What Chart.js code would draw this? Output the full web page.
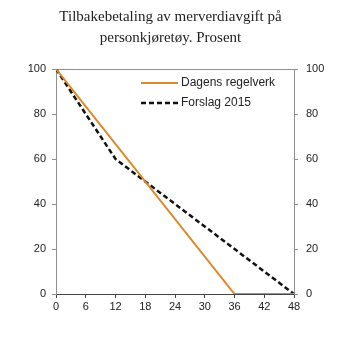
<!DOCTYPE html>
<html>
<head>
<meta charset="utf-8">
<script src="https://cdn.jsdelivr.net/npm/chart.js@4"></script>
<style>
  html, body { margin: 0; padding: 0; background: #fff; }
  #wrap { width: 341px; height: 341px; }
</style>
</head>
<body>
<div id="wrap"><canvas id="c"></canvas></div>
<script>
// months after registration, refund share in percent
const dagensMonths = [0, 36, 48];
const dagensValues = [100, 0, 0];
const forslagMonths = [0, 12, 48];
const forslagValues = [100, 60, 0];
const seriesNames = ['Dagens regelverk', 'Forslag 2015'];
const titleLines = ['Tilbakebetaling av merverdiavgift på', 'personkjøretøy. Prosent'];

const sans = "'Liberation Sans', Arial, sans-serif";
const axisGrey = '#8f8f8f';

function toPoints(xs, ys) {
  return xs.map((x, i) => ({ x: x, y: ys[i] }));
}

// legend drawn inside the plot area, top right
const innerLegend = {
  id: 'innerLegend',
  afterDraw(chart) {
    const ctx = chart.ctx;
    const area = chart.chartArea;
    const x0 = area.left + 85;
    let y = area.top + 14;
    ctx.save();
    ctx.font = '12px ' + sans;
    ctx.textBaseline = 'middle';
    chart.data.datasets.forEach(ds => {
      ctx.strokeStyle = ds.borderColor;
      ctx.lineWidth = ds.borderWidth;
      ctx.setLineDash(ds.borderDash || []);
      ctx.beginPath();
      ctx.moveTo(x0, y);
      ctx.lineTo(x0 + 37, y);
      ctx.stroke();
      ctx.setLineDash([]);
      ctx.fillStyle = '#222';
      ctx.fillText(ds.label, x0 + 40, y);
      y += 20;
    });
    ctx.restore();
  }
};

new Chart(document.getElementById('c'), {
  type: 'line',
  data: {
    datasets: [{
      label: seriesNames[0],
      data: toPoints(dagensMonths, dagensValues),
      borderColor: '#dd8726',
      borderWidth: 2,
      pointRadius: 0,
      tension: 0
    }, {
      label: seriesNames[1],
      data: toPoints(forslagMonths, forslagValues),
      borderColor: '#111',
      borderWidth: 2.5,
      borderDash: [5, 3],
      pointRadius: 0,
      tension: 0
    }]
  },
  options: {
    responsive: true,
    maintainAspectRatio: false,
    animation: false,
    layout: { padding: 0 },
    plugins: {
      legend: { display: false },
      tooltip: { enabled: false },
      title: {
        display: true,
        text: titleLines,
        color: '#222',
        font: { family: "'Liberation Serif', 'Times New Roman', serif", size: 15, weight: 'normal', lineHeight: 1.4 },
        padding: { top: 7, bottom: 20 }
      }
    },
    scales: {
      x: {
        type: 'linear',
        min: 0, max: 48,
        ticks: { stepSize: 6, color: '#222', font: { family: sans, size: 11 }, padding: 2, maxRotation: 0 },
        grid: { drawOnChartArea: false, drawTicks: true, tickLength: 4, color: '#444' },
        border: { color: '#444', width: 1 },
        afterFit(s) { s.height = 47; }
      },
      xTop: {
        type: 'linear',
        position: 'top',
        min: 0, max: 48,
        ticks: { display: false },
        grid: { display: false },
        border: { color: axisGrey, width: 1 },
        afterFit(s) { s.height = 0; }
      },
      y: {
        min: 0, max: 100,
        ticks: { stepSize: 20, color: '#222', font: { family: sans, size: 11 }, padding: 6 },
        grid: { drawOnChartArea: false, drawTicks: true, tickLength: 4, color: axisGrey },
        border: { color: axisGrey, width: 1 },
        afterFit(s) { s.width = 56; }
      },
      yRight: {
        position: 'right',
        min: 0, max: 100,
        ticks: { stepSize: 20, color: '#222', font: { family: sans, size: 11 }, padding: 8 },
        grid: { drawOnChartArea: false, drawTicks: true, tickLength: 4, color: axisGrey },
        border: { color: axisGrey, width: 1 },
        afterFit(s) { s.width = 47; }
      }
    }
  },
  plugins: [innerLegend]
});
</script>
</body>
</html>
